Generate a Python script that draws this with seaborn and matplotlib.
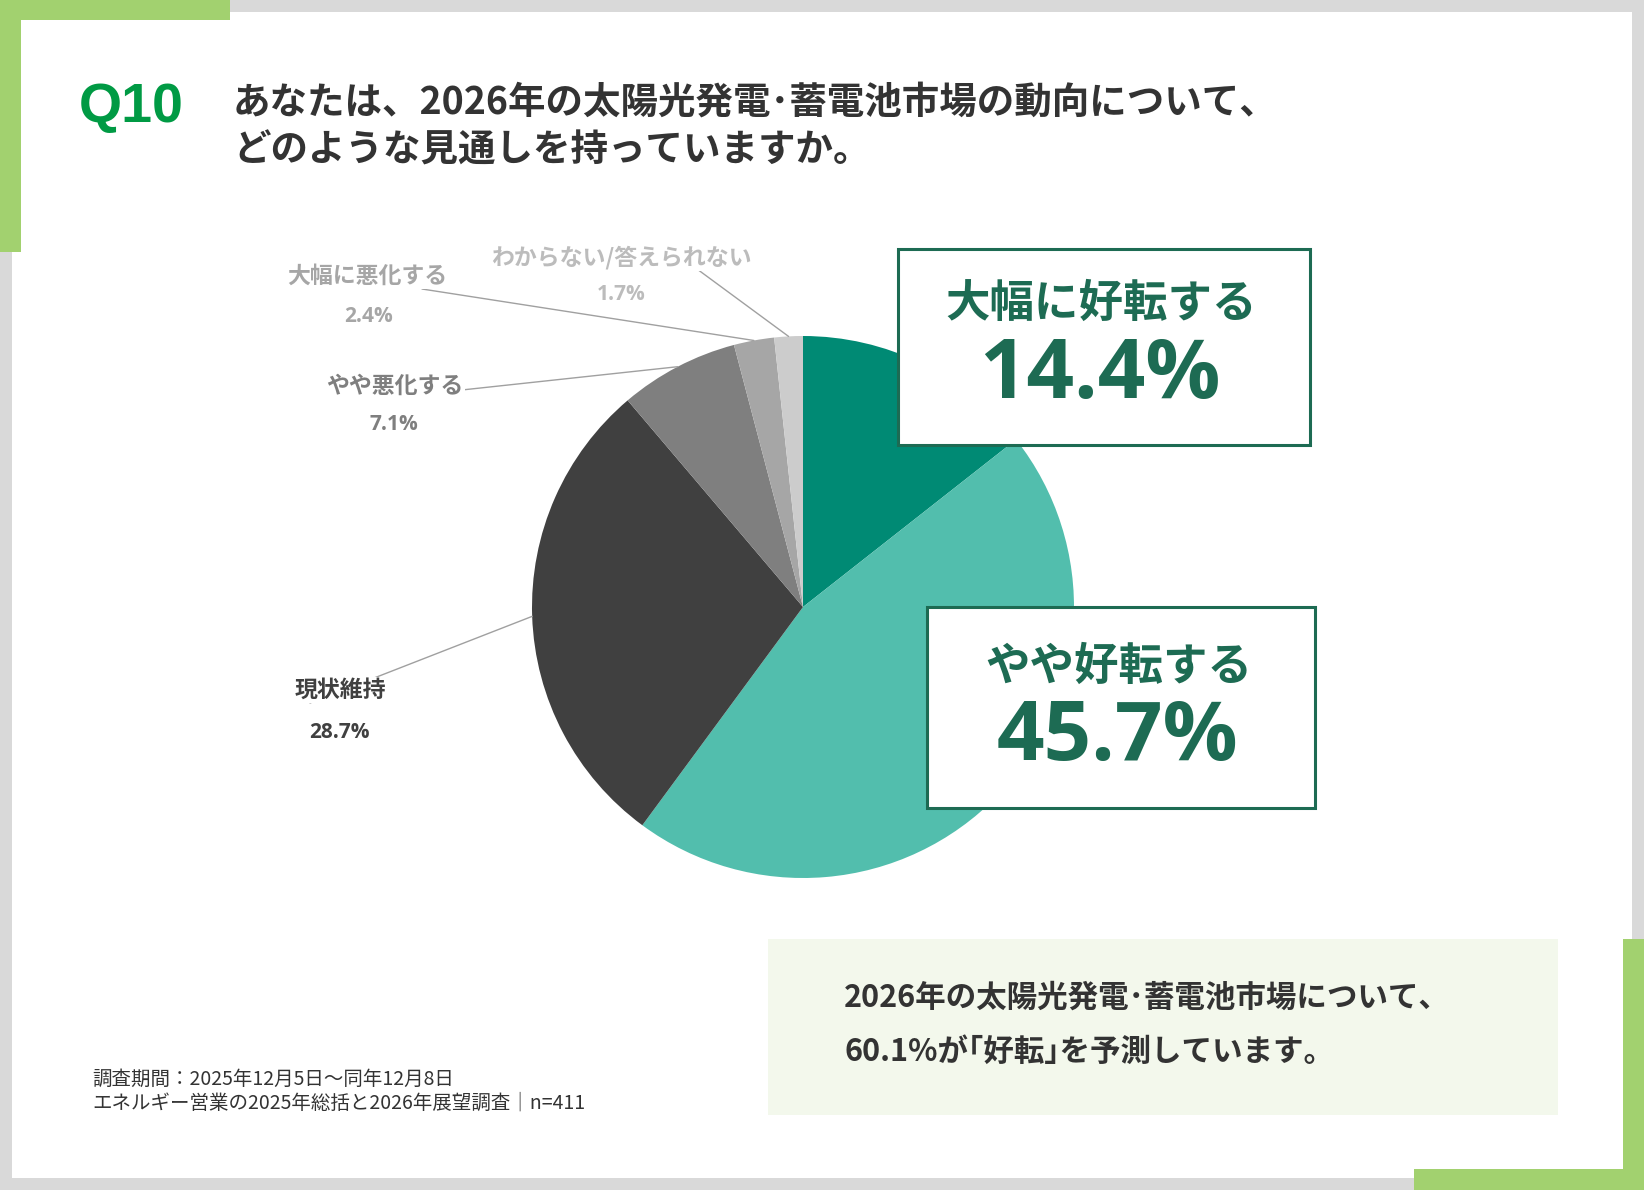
import numpy as np
import matplotlib
matplotlib.use("Agg")
import matplotlib.pyplot as plt
import seaborn as sns
from matplotlib.patches import Rectangle

# ---------------- data ----------------
categories = ["大幅に好転する", "やや好転する", "現状維持", "やや悪化する", "大幅に悪化する", "わからない/答えられない"]
values = [14.4, 45.7, 28.7, 7.1, 2.4, 1.7]
pct_labels = ["14.4%", "45.7%", "28.7%", "7.1%", "2.4%", "1.7%"]
slice_colors = ["#008a74", "#52bead", "#404040", "#7f7f7f", "#a6a6a6", "#cccccc"]
label_colors = [None, None, "#404040", "#7f7f7f", "#a6a6a6", "#bcbcbc"]

title_q = "Q10"
title_lines = ["あなたは、2026年の太陽光発電･蓄電池市場の動向について、",
               "どのような見通しを持っていますか。"]
summary_lines = ["2026年の太陽光発電･蓄電池市場について、",
                 "60.1%が｢好転｣を予測しています。"]
footer_lines = ["調査期間：2025年12月5日～同年12月8日",
                "エネルギー営業の2025年総括と2026年展望調査│n=411"]

# ---------------- style ----------------
sns.set_theme(style="white")
plt.rcParams["font.family"] = ["Noto Sans CJK JP", "DejaVu Sans"]
NUMFONT = ["Open Sans", "Noto Sans CJK JP", "DejaVu Sans"]

W, H = 1644, 1190
fig = plt.figure(figsize=(W / 100, H / 100), dpi=100)

# background / frame
bg = fig.add_axes([0, 0, 1, 1], zorder=0)
bg.set_xlim(0, W); bg.set_ylim(H, 0); bg.axis("off")
GRAY = "#d9d9d9"; GREEN = "#a2d16f"
bg.add_patch(Rectangle((0, 0), W, H, color=GRAY, lw=0))
bg.add_patch(Rectangle((12, 12), 1620, 1166, color="white", lw=0))
bg.add_patch(Rectangle((0, 0), 230, 20, color=GREEN, lw=0))
bg.add_patch(Rectangle((0, 0), 21, 252, color=GREEN, lw=0))
bg.add_patch(Rectangle((1623, 939), 21, 251, color=GREEN, lw=0))
bg.add_patch(Rectangle((1414, 1169), 230, 21, color=GREEN, lw=0))

# pie
cx, cy, r = 803, 607, 271
axp = fig.add_axes([(cx - r) / W, (H - cy - r) / H, 2 * r / W, 2 * r / H], zorder=1)
wedges, _ = axp.pie(values, colors=slice_colors, startangle=90, counterclock=False,
                    radius=1, wedgeprops=dict(linewidth=0))
axp.set_xlim(-1, 1); axp.set_ylim(-1, 1); axp.axis("off")

# overlay
ax = fig.add_axes([0, 0, 1, 1], zorder=2)
ax.set_xlim(0, W); ax.set_ylim(H, 0); ax.axis("off")
ax.patch.set_alpha(0)

def wedge_edge_px(w):
    t = np.deg2rad((w.theta1 + w.theta2) / 2)
    disp = axp.transData.transform((np.cos(t), np.sin(t)))
    return ax.transData.inverted().transform(disp)

# outside labels: (line end, label center, pct center)
outside = {
    2: ((310, 703), (340, 690), (339, 732)),
    3: ((434, 393), (395, 386), (394, 424)),
    4: ((422, 289), (367, 276), (369, 316)),
    5: ((697, 269), (621, 258), (621, 294)),
}
for i, (lend, lc, pc) in outside.items():
    p = wedge_edge_px(wedges[i])
    ax.plot([p[0], lend[0]], [p[1], lend[1]], color="#a0a0a0", lw=1.0, zorder=1)
    col = label_colors[i]
    ax.text(lc[0], lc[1], categories[i], ha="center", va="center", fontsize=16.5,
            fontweight="bold", color=col, zorder=3,
            bbox=dict(boxstyle="square,pad=0.05", fc="white", ec="none"))
    ax.text(pc[0], pc[1], pct_labels[i], ha="center", va="center", fontsize=15,
            fontweight="bold", color=col, zorder=3, family=NUMFONT)

# callout boxes
DG = "#1d6b53"
boxes = {0: ((898, 249, 412, 196), (1101, 304), 398),
         1: ((927, 607, 388, 201), (1119, 667), 760)}
for i, (rect, lc, base) in boxes.items():
    x0, y0, bw, bh = rect
    ax.add_patch(Rectangle((x0, y0), bw, bh, fc="white", ec=DG, lw=2.2, zorder=2))
    ax.text(lc[0], lc[1], categories[i], ha="center", va="center", fontsize=32,
            fontweight="bold", color=DG, zorder=3)
    ax.text(x0 + bw / 2 - 4, base, pct_labels[i], ha="center", va="baseline", fontsize=60,
            fontweight="bold", color=DG, zorder=3, family=NUMFONT)

# title
ax.text(79, 122, title_q, ha="left", va="baseline", fontsize=40, fontweight="bold",
        color="#009a44", family=["Liberation Sans", "DejaVu Sans"])
for k, line in enumerate(title_lines):
    ax.text(233, 102 + 48 * k, line, ha="left", va="center", fontsize=27,
            fontweight="bold", color="#333333")

# summary box
ax.add_patch(Rectangle((768, 939), 790, 176, fc="#f3f8ec", ec="none", zorder=1))
for k, line in enumerate(summary_lines):
    ax.text(844, 998 + 54 * k, line, ha="left", va="center", fontsize=22,
            fontweight="bold", color="#333333", zorder=3)

# footer
for k, line in enumerate(footer_lines):
    ax.text(92, 1079 + 24 * k, line, ha="left", va="center", fontsize=14,
            color="#333333", zorder=3)

fig.savefig("out.png", dpi=100)
